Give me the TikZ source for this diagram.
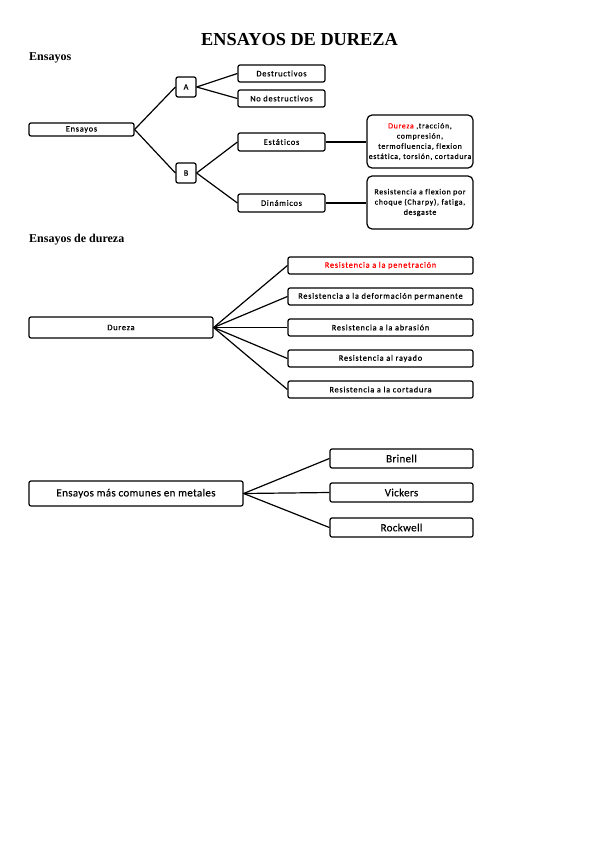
\documentclass[tikz,border=0pt]{standalone}
\usepackage{fontspec}
\setmainfont{Liberation Serif}
\newfontfamily\boxfontsp{Carlito}[LetterSpace=9,Ligatures=NoCommon,FakeBold=0.6]
\newfontfamily\boxfontbig{Carlito}[LetterSpace=3,Ligatures=NoCommon,FakeBold=0.3]
\begin{document}
\begin{tikzpicture}[x=1pt,y=-1pt,
  bx/.style={draw,line width=1.2pt,rounded corners=2pt,inner sep=0pt,font=\boxfontsp\fontsize{8.3}{9}\selectfont},
  bigbx/.style={draw,line width=1.2pt,rounded corners=5pt,inner sep=0pt,align=center,font=\boxfontsp\fontsize{7.8}{10.2}\selectfont},
  bx3/.style={bx,font=\boxfontbig\fontsize{11}{12}\selectfont},
  conn/.style={line width=1.2pt},
  head/.style={anchor=west,inner sep=0pt,font=\bfseries\fontsize{12}{14}\selectfont}]
\useasboundingbox (0,0) rectangle (599,848);
\node[inner sep=0pt,font=\bfseries\fontsize{18.3}{20}\selectfont] (title) at (299.5,40) {ENSAYOS DE DUREZA};
\node[head] (h1) at (29,57.5) {Ensayos};
\node[head] (h2) at (29,240) {Ensayos de dureza};
% section 1
\node[bx,minimum width=105pt,minimum height=13pt] (ens) at (81.5,129.5) {Ensayos};
\node[bx,minimum width=20pt,minimum height=20pt] (A) at (186,87) {A};
\node[bx,minimum width=20pt,minimum height=20pt] (B) at (186,173) {B};
\node[bx,minimum width=87pt,minimum height=17pt] (des) at (281.5,73.5) {Destructivos};
\node[bx,minimum width=87pt,minimum height=17pt] (nodes) at (281.5,98.5) {No destructivos};
\node[bx,minimum width=87pt,minimum height=18pt] (est) at (281.5,142) {Estáticos};
\node[bx,minimum width=87pt,minimum height=18pt] (din) at (281.5,203) {Dinámicos};
\node[bigbx,minimum width=106pt,minimum height=53pt] (estb) at (420,141.5) {{\color{red}Dureza} ,tracción,\\compresión,\\termofluencia, flexion\\estática, torsión, cortadura};
\node[bigbx,minimum width=106pt,minimum height=53pt] (dinb) at (420,202.5) {Resistencia a flexion por\\choque (Charpy), fatiga,\\desgaste};
\draw[conn] (ens.east) -- (A.west);
\draw[conn] (ens.east) -- (B.west);
\draw[conn] (A.east) -- (des.west);
\draw[conn] (A.east) -- (nodes.west);
\draw[conn] (B.east) -- (est.west);
\draw[conn] (B.east) -- (din.west);
\draw[conn] (est.east) -- (estb.west |- est.east);
\draw[conn] (din.east) -- (dinb.west |- din.east);
% section 2
\node[bx,minimum width=184pt,minimum height=21pt] (dur) at (121,327.5) {Dureza};
\node[bx,minimum width=185pt,minimum height=17pt,text=red] (r1) at (380.5,265.5) {Resistencia a la penetración};
\node[bx,minimum width=185pt,minimum height=17pt] (r2) at (380.5,296.5) {Resistencia a la deformación permanente};
\node[bx,minimum width=185pt,minimum height=17pt] (r3) at (380.5,327.5) {Resistencia a la abrasión};
\node[bx,minimum width=185pt,minimum height=17pt] (r4) at (380.5,358.5) {Resistencia al rayado};
\node[bx,minimum width=185pt,minimum height=17pt] (r5) at (380.5,389.5) {Resistencia a la cortadura};
\foreach \n in {r1,r2,r3,r4,r5} \draw[conn] (dur.east) -- (\n.west);
% section 3
\node[bx3,minimum width=214pt,minimum height=25pt] (com) at (136,493.5) {Ensayos más comunes en metales};
\node[bx3,minimum width=143pt,minimum height=19pt] (bri) at (401.5,458.5) {Brinell};
\node[bx3,minimum width=143pt,minimum height=19pt] (vic) at (401.5,492.5) {Vickers};
\node[bx3,minimum width=143pt,minimum height=19pt] (roc) at (401.5,527.5) {Rockwell};
\foreach \n in {bri,vic,roc} \draw[conn] (com.east) -- (\n.west);
\end{tikzpicture}
\end{document}
